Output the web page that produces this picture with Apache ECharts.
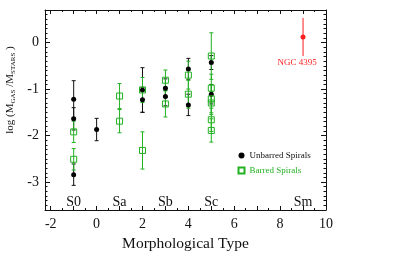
<!DOCTYPE html>
<html><head><meta charset="utf-8">
<script src="https://cdn.jsdelivr.net/npm/echarts@6/dist/echarts.min.js"></script>
<style>html,body{margin:0;padding:0;background:#fff}#c{width:397px;height:258px}</style>
</head><body><div id="c"></div>
<script>
// ---- data ----
const unbarredType = [-1, -1, -1, 0, 2, 2, 3, 3, 4, 4, 5, 5];
const unbarredVal  = [-1.22, -1.64, -2.84, -1.87, -1.02, -1.23, -0.98, -1.16, -0.57, -1.34, -0.43, -1.11];
const unbarredErr  = [0.40, 0.24, 0.23, 0.24, 0.48, 0.27, 0.20, 0.20, 0.23, 0.23, 0.15, 0.21];

const barredType = [-1, -1, 1, 1, 2, 2, 3, 3, 4, 4, 5, 5, 5, 5, 5, 5];
const barredVal  = [-1.92, -2.51, -1.15, -1.69, -1.02, -2.32, -0.81, -1.32, -0.70, -1.11, -0.29, -0.98, -1.21, -1.30, -1.66, -1.89];
const barredErr  = [0.23, 0.23, 0.27, 0.25, 0.27, 0.40, 0.22, 0.28, 0.30, 0.30, 0.50, 0.30, 0.30, 0.25, 0.25, 0.25];

const ngcType = [9];
const ngcVal  = [0.12];
const ngcErr  = [0.41];

const typeNames = ['S0', 'Sa', 'Sb', 'Sc', 'Sm'];
const typeNameX = [-1, 1, 3, 5, 9];

const xTickLabels = [-2, 0, 2, 4, 6, 8, 10];
const yTickLabels = [-3, -2, -1, 0];

// ---- styling ----
const X_MIN = -2.25, X_MAX = 10, Y_MIN = -3.6, Y_MAX = 0.7;
const GREEN = '#22b122', RED = '#ff1f1f', INK = '#111';
const SERIF = '"Liberation Serif", "DejaVu Serif", serif';

function range(a, b, step) {
  const r = [];
  for (let v = a; v <= b + 1e-9; v += step) r.push(Math.round(v * 100) / 100);
  return r;
}
const xMajorTicks = range(-2, 10, 1);
const xMinorTicks = range(-2, 10, 0.5);
const yMajorTicks = yTickLabels;
const yMinorTicks = range(-3.5, 0.7, 0.1);

function axis(pos, min, max, ticks, len, labels, showLine) {
  return {
    type: 'value', position: pos, min: min, max: max,
    axisLine: { show: showLine, onZero: false, lineStyle: { color: INK, width: 1 } },
    axisTick: { show: true, inside: true, length: len, customValues: ticks, lineStyle: { color: INK, width: 1 } },
    axisLabel: labels ? { show: true, customValues: labels, fontFamily: SERIF, fontSize: 14, color: INK,
                          margin: pos === 'bottom' ? 7 : 6 } : { show: false },
    splitLine: { show: false }
  };
}

const xAxes = [
  axis('bottom', X_MIN, X_MAX, xMajorTicks, 4, xTickLabels, true),
  axis('bottom', X_MIN, X_MAX, xMinorTicks, 2, null, false),
  axis('top', X_MIN, X_MAX, xMajorTicks, 4, null, true),
  axis('top', X_MIN, X_MAX, xMinorTicks, 2, null, false)
];
xAxes[0].name = 'Morphological Type';
xAxes[0].nameLocation = 'middle';
xAxes[0].nameGap = 20;
xAxes[0].nameTextStyle = { fontFamily: SERIF, fontSize: 15.5, color: INK };

const yAxes = [
  axis('left', Y_MIN, Y_MAX, yMajorTicks, 5, yTickLabels, true),
  axis('left', Y_MIN, Y_MAX, yMinorTicks, 2.5, null, false),
  axis('right', Y_MIN, Y_MAX, yMajorTicks, 5, null, true),
  axis('right', Y_MIN, Y_MAX, yMinorTicks, 2.5, null, false)
];

function errSeries(name, xs, ys, es, color, cap) {
  return {
    type: 'custom', name: name, xAxisIndex: 0, yAxisIndex: 0, silent: true, z: 1,
    data: xs.map((x, i) => [x, ys[i], es[i]]),
    renderItem: function (params, api) {
      const x = api.value(0), y = api.value(1), e = api.value(2);
      const t = api.coord([x, y + e]), b = api.coord([x, y - e]);
      const st = { stroke: color, lineWidth: 1 };
      const ch = [{ type: 'line', shape: { x1: t[0], y1: t[1], x2: b[0], y2: b[1] }, style: st }];
      if (cap) {
        ch.push({ type: 'line', shape: { x1: t[0] - cap, y1: t[1], x2: t[0] + cap, y2: t[1] }, style: st });
        ch.push({ type: 'line', shape: { x1: b[0] - cap, y1: b[1], x2: b[0] + cap, y2: b[1] }, style: st });
      }
      return { type: 'group', children: ch };
    }
  };
}

const option = {
  animation: false,
  backgroundColor: '#fff',
  grid: { left: 45, right: 71, top: 10, bottom: 48, containLabel: false },
  xAxis: xAxes,
  yAxis: yAxes,
  legend: {
    left: 236, top: 151, padding: 0, orient: 'vertical', itemGap: 5, itemWidth: 6, itemHeight: 6,
    textStyle: { fontFamily: SERIF, fontSize: 9 },
    data: [
      { name: 'Unbarred Spirals', textStyle: { color: INK } },
      { name: 'Barred Spirals', textStyle: { color: GREEN } }
    ]
  },
  graphic: [{
    type: 'text', x: 11, y: 90, rotation: Math.PI / 2, silent: true,
    style: {
      text: '{a|log (M}{b|GAS}{a| /M}{b|STARS}{a| )}',
      fill: INK, align: 'center', verticalAlign: 'middle',
      rich: {
        a: { fontFamily: SERIF, fontSize: 11, lineHeight: 13, verticalAlign: 'top', fill: INK },
        b: { fontFamily: SERIF, fontSize: 7, lineHeight: 7, verticalAlign: 'top', padding: [5.5, 0, 0, 0], fill: INK }
      }
    }
  }],
  series: [
    errSeries('errU', unbarredType, unbarredVal, unbarredErr, INK, 2),
    errSeries('errB', barredType, barredVal, barredErr, GREEN, 2),
    errSeries('errN', ngcType, ngcVal, ngcErr, RED, 0),
    {
      type: 'scatter', name: 'Unbarred Spirals', symbol: 'circle', symbolSize: 5, z: 3,
      itemStyle: { color: '#000', opacity: 1 },
      data: unbarredType.map((x, i) => [x, unbarredVal[i]])
    },
    {
      type: 'scatter', name: 'Barred Spirals', symbol: 'rect', symbolSize: 6, z: 4,
      itemStyle: { color: 'none', borderColor: GREEN, borderWidth: 1, opacity: 1 },
      data: barredType.map((x, i) => [x, barredVal[i]])
    },
    {
      type: 'scatter', name: 'NGC 4395', symbol: 'circle', symbolSize: 5, z: 4,
      itemStyle: { color: RED, opacity: 1 },
      label: { show: true, formatter: 'NGC 4395', position: 'inside', offset: [-6, 26],
               color: RED, fontFamily: SERIF, fontSize: 9, opacity: 1 },
      data: ngcType.map((x, i) => [x, ngcVal[i]])
    },
    {
      type: 'scatter', name: 'types', symbolSize: 0, silent: true,
      itemStyle: { opacity: 1 },
      label: { show: true, position: 'inside', formatter: '{b}', color: INK, fontFamily: SERIF, fontSize: 14, opacity: 1 },
      data: typeNames.map((n, i) => ({ name: n, value: [typeNameX[i], -3.43] }))
    }
  ]
};
echarts.init(document.getElementById('c'), null, { renderer: 'canvas' }).setOption(option);
</script></body></html>
